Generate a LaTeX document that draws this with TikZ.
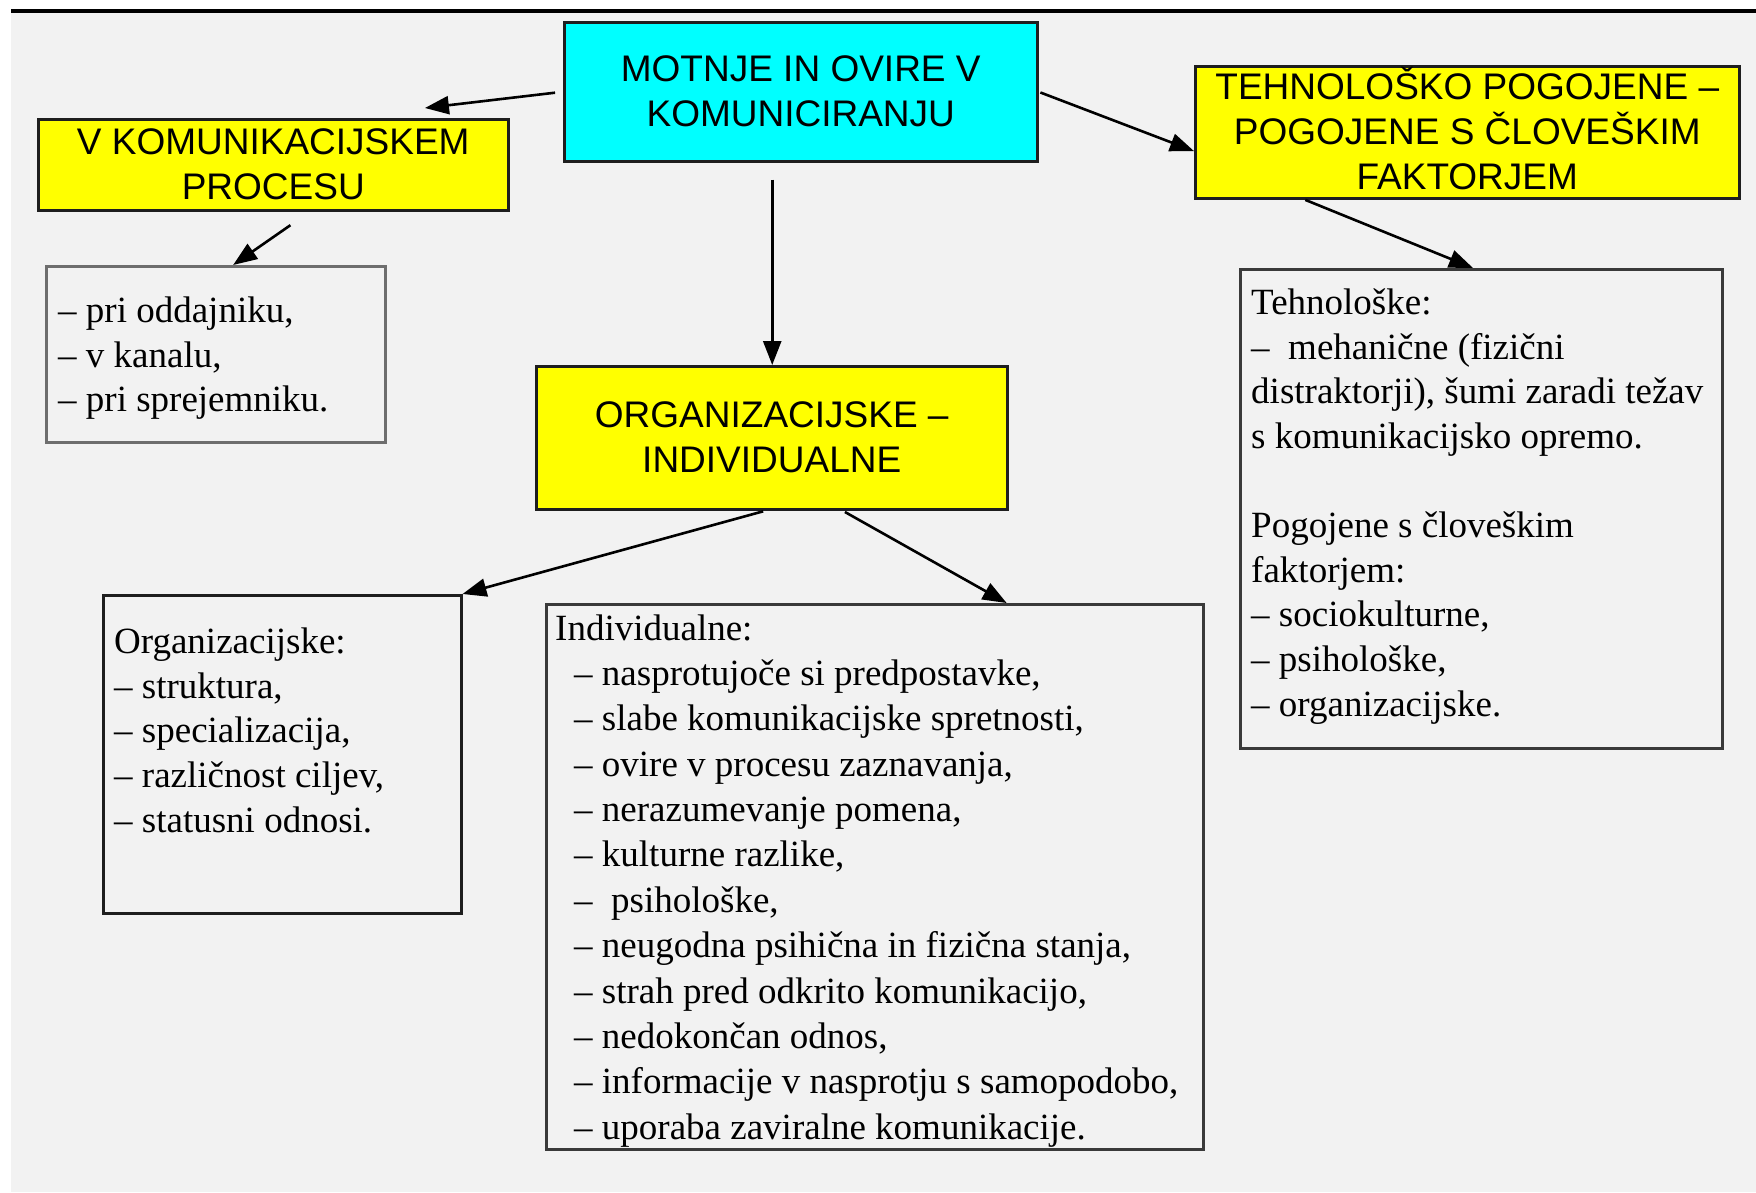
\documentclass[tikz,border=0pt]{standalone}
\usepackage{fontspec}
\setmainfont{Liberation Serif}
\newfontfamily\headfont{Liberation Sans}
\usetikzlibrary{arrows.meta,calc}

\definecolor{pagebg}{HTML}{F2F2F2}
\definecolor{boxcyan}{HTML}{00FFFF}
\definecolor{boxyellow}{HTML}{FFFF00}
\definecolor{edgedark}{HTML}{1E1E1E}
\definecolor{edgegray}{HTML}{6E6E6E}
\definecolor{edgemid}{HTML}{3A3A3A}

% invisible strut fixing the height of the first text line
\newcommand\firstline{\rule{0pt}{34pt}}

\begin{document}
\begin{tikzpicture}[x=1pt,y=-1pt,
  headbox/.style={rectangle, draw=edgedark, line width=2.5pt, inner sep=0pt,
    anchor=north west, align=center,
    font=\headfont\fontsize{37}{45}\selectfont},
  listbox/.style={rectangle, draw=edgemid, line width=2.5pt, inner sep=0pt,
    anchor=north west, fill=pagebg},
  listtext/.style={anchor=north west, inner sep=0pt, align=left,
    font=\fontsize{37}{44.6}\selectfont},
  arr/.style={line width=2.6pt, draw=black,
    -{Triangle[length=24pt,width=18pt]}},
]
% page background with the rule along the top
\useasboundingbox (0,0) rectangle (1756,1192);
\fill[white] (0,0) rectangle (1756,1192);
\fill[pagebg] (11,12) rectangle (1756,1192);
\fill[black] (11,9) rectangle (1756,12.5);

% heading boxes
\node[headbox, fill=boxcyan, minimum width=473pt, minimum height=139pt]
  (main) at (563,21) {MOTNJE IN OVIRE V\\KOMUNICIRANJU};
\node[headbox, fill=boxyellow, minimum width=470pt, minimum height=91pt]
  (proc) at (37,118) {V KOMUNIKACIJSKEM\\PROCESU};
\node[headbox, fill=boxyellow, minimum width=544pt, minimum height=132pt]
  (tech) at (1194,65) {TEHNOLO\smash{Š}KO POGOJENE –\\POGOJENE S ČLOVEŠKIM\\FAKTORJEM};
\node[headbox, fill=boxyellow, minimum width=471pt, minimum height=143pt]
  (orgind) at (535,365) {ORGANIZACIJSKE –\\INDIVIDUALNE};

% list boxes
\node[listbox, draw=edgegray, line width=3pt, minimum width=339pt, minimum height=176pt]
  (chan) at (45,265) {};
\node[listbox, minimum width=482pt, minimum height=479pt]
  (techlist) at (1239,268) {};
\node[listbox, draw=edgedark, minimum width=358pt, minimum height=318pt]
  (org) at (102,594) {};
\node[listbox, minimum width=657pt, minimum height=545pt]
  (ind) at (545,603) {};

% list texts
\node[listtext] (chantext) at (58,288.5)
  {\firstline– pri oddajniku,\\– v kanalu,\\– pri sprejemniku.};
\node[listtext] (techtext) at (1251,280.5)
  {\firstline Tehnološke:\\–\ \ mehanične (fizični\\distraktorji), šumi zaradi težav\\s komunikacijsko opremo.\\[44.6pt]Pogojene s človeškim\\faktorjem:\\– sociokulturne,\\– psihološke,\\– organizacijske.};
\node[listtext] (orgtext) at (114,619.5)
  {\firstline Organizacijske:\\– struktura,\\– specializacija,\\– različnost ciljev,\\– statusni odnosi.};
\node[listtext, font=\fontsize{37}{45.35}\selectfont] (indtext) at (555,606)
  {\firstline Individualne:\\
   \hspace*{19pt}– nasprotujoče si predpostavke,\\
   \hspace*{19pt}– slabe komunikacijske spretnosti,\\
   \hspace*{19pt}– ovire v procesu zaznavanja,\\
   \hspace*{19pt}– nerazumevanje pomena,\\
   \hspace*{19pt}– kulturne razlike,\\
   \hspace*{19pt}–\ \ psihološke,\\
   \hspace*{19pt}– neugodna psihična in fizična stanja,\\
   \hspace*{19pt}– strah pred odkrito komunikacijo,\\
   \hspace*{19pt}– nedokončan odnos,\\
   \hspace*{19pt}– informacije v nasprotju s samopodobo,\\
   \hspace*{19pt}– uporaba zaviralne komunikacije.};

% connectors
\draw[arr, shorten <=8pt] (main.west) --
  ($(proc.north west)!0.821!(proc.north east)+(0,-10)$);
\draw[arr, shorten <=24pt] ($(proc.south west)!0.578!(proc.south east)$) --
  ($(chan.north west)!0.55!(chan.north east)$);
\draw[arr, shorten <=2pt] (main.east) --
  ($(tech.north west)!0.64!(tech.south west)$);
\draw[arr, shorten <=1pt] ($(tech.south west)!0.202!(tech.south east)$) --
  ($(techlist.north west)!0.483!(techlist.north east)$);
\coordinate (downstart) at ($(main.south west)!0.44!(main.south east)$);
\draw[arr, shorten <=17pt] (downstart) -- (downstart |- orgind.north);
\draw[arr, shorten <=3pt] ($(orgind.south west)!0.488!(orgind.south east)$) --
  (org.north east);
\draw[arr, shorten <=3pt] ($(orgind.south west)!0.649!(orgind.south east)$) --
  ($(ind.north west)!0.70!(ind.north east)$);
\end{tikzpicture}
\end{document}
